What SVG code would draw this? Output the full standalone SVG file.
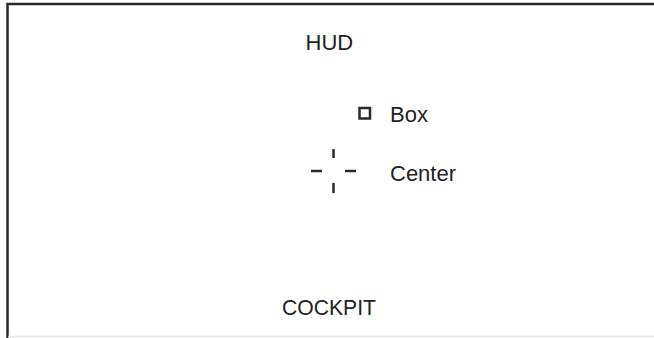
<svg xmlns="http://www.w3.org/2000/svg" width="654" height="338" viewBox="0 0 654 338">
<style>
.t{font-family:"Liberation Sans",Arial,sans-serif;font-size:22px;fill:#222}
.s{stroke:#2a2a2a;fill:none}
</style>
<rect width="654" height="338" fill="#fff"/>
<g id="frame">
<path class="s" d="M7.5 338V4H654" stroke-width="2.5"/>
<line x1="8" y1="336.5" x2="654" y2="336.5" stroke="#e4e4e4" stroke-width="1.5"/>
</g>
<g id="hud"><text class="t" x="305.5" y="49.5">HUD</text></g>
<g id="box">
<rect class="s" x="359.5" y="108" width="10.5" height="10.5" stroke-width="2.5"/>
<text class="t" x="390" y="122">Box</text>
</g>
<g id="center">
<g class="s" stroke-width="2.5">
<line x1="333.5" y1="149" x2="333.5" y2="158"/>
<line x1="333.5" y1="183" x2="333.5" y2="193"/>
<line x1="311" y1="171" x2="322" y2="171"/>
<line x1="345" y1="171" x2="356" y2="171"/>
</g>
<text class="t" x="390" y="181">Center</text>
</g>
<g id="cockpit"><text class="t" x="282" y="315" textLength="94" lengthAdjust="spacingAndGlyphs">COCKPIT</text></g>
<g id="connectors"/>
</svg>
